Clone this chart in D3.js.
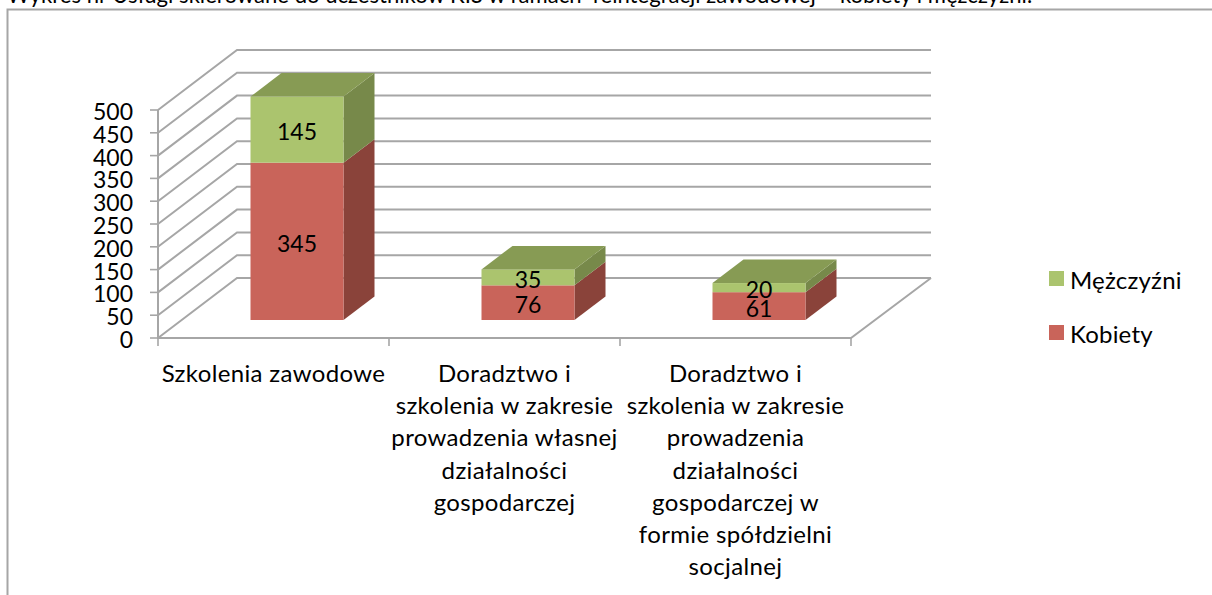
<!DOCTYPE html>
<html><head><meta charset="utf-8">
<script src="https://cdn.jsdelivr.net/npm/d3@7/dist/d3.min.js"></script>
<style>html,body{margin:0;padding:0;background:#fff;overflow:hidden}text{font-family:Lato,"Noto Sans",sans-serif;fill:#000}</style>
</head><body><svg id="c" width="1212" height="595"></svg>
<script>
const categories=[["Szkolenia zawodowe"],["Doradztwo i","szkolenia w zakresie","prowadzenia własnej","działalności","gospodarczej"],["Doradztwo i","szkolenia w zakresie","prowadzenia","działalności","gospodarczej w","formie spółdzielni","socjalnej"]];
const seriesNames=["Kobiety","Mężczyźni"];
const kobiety=[345,76,61];
const mezczyzni=[145,35,20];
const yTicks=[0,50,100,150,200,250,300,350,400,450,500];
const titleText="Wykres nr Usługi skierowane do uczestników KIS w ramach  reintegracji zawodowej – kobiety i mężczyźni.";
const colors={Kobiety:{front:"#c9645a",side:"#8a433a"},"Mężczyźni":{front:"#abc46e",side:"#77894a",top:"#879b54"}};
const svg=d3.select("#c");
const grid="#a6a6a6";
const y=d3.scaleLinear().domain([0,500]).range([338,110]);
const band=d3.scaleBand().domain(d3.range(categories.length)).range([158,851]);
const wall={dx:79,dy:-60};const barDepth={dx:31,dy:-23.5};const barOff={dx:24,dy:-18};
const barW=93;
svg.append("text").attr("x",7).attr("y",3).attr("font-size",22.1).style("white-space","pre").text(titleText);
svg.append("path").attr("d","M1212,9.5H7.5V595").attr("fill","none").attr("stroke",grid).attr("stroke-width",2);
const g=svg.append("g");
yTicks.forEach(t=>{
 g.append("path").attr("d",`M158,${y(t)}L${158+wall.dx},${y(t)+wall.dy}H931`).attr("fill","none").attr("stroke",grid).attr("stroke-width",2);
 g.append("line").attr("x1",150).attr("x2",158).attr("y1",y(t)).attr("y2",y(t)).attr("stroke",grid).attr("stroke-width",1.6);
 g.append("text").attr("x",133).attr("y",y(t)+10).attr("text-anchor","end").attr("font-size",23).text(t);
});
g.append("path").attr("d",`M158,${y(500)}V338H851L931,278`).attr("fill","none").attr("stroke",grid).attr("stroke-width",2);
[...band.domain().map(i=>band(i)),851].forEach(tx=>g.append("line").attr("x1",tx).attr("x2",tx).attr("y1",338).attr("y2",346).attr("stroke",grid).attr("stroke-width",1.6));
categories.forEach((c,i)=>{
 const cx=band(i)+band.bandwidth()/2+barOff.dx-0.5, x0=cx-barW/2, x1=cx+barW/2;
 const segs=[{n:"Kobiety",a:0,b:kobiety[i]},{n:"Mężczyźni",a:kobiety[i],b:kobiety[i]+mezczyzni[i]}];
 segs.forEach(s=>{
  const yb=y(s.a)+barOff.dy, yt=y(s.b)+barOff.dy, col=colors[s.n];
  g.append("path").attr("d",`M${x1},${yb}l${barDepth.dx},${barDepth.dy}V${yt+barDepth.dy}L${x1},${yt}Z`).attr("fill",col.side);
  g.append("rect").attr("x",x0).attr("y",yt).attr("width",barW).attr("height",yb-yt).attr("fill",col.front);
 });
 const yt=y(kobiety[i]+mezczyzni[i])+barOff.dy;
 g.append("path").attr("d",`M${x0},${yt}l${barDepth.dx},${barDepth.dy}H${x1+barDepth.dx}L${x1},${yt}Z`).attr("fill",colors["Mężczyźni"].top);
 segs.forEach(s=>{
  const ym=(y(s.a)+y(s.b))/2+barOff.dy;
  g.append("text").attr("x",cx).attr("y",ym+10.5).attr("text-anchor","middle").attr("font-size",23).text(s.b-s.a);
 });
 c.forEach((l,k)=>g.append("text").attr("x",band(i)+band.bandwidth()/2).attr("y",382+k*32.2).attr("text-anchor","middle").attr("font-size",24).attr("letter-spacing",0.35).text(l));
});
[["Mężczyźni",281],["Kobiety",335]].forEach(([n,ly])=>{
 g.append("rect").attr("x",1049).attr("y",ly-10).attr("width",15).attr("height",15).attr("fill",colors[n].front);
 g.append("text").attr("x",1070).attr("y",ly+7.5).attr("font-size",24).attr("letter-spacing",0.2).text(n);
});
</script></body></html>
